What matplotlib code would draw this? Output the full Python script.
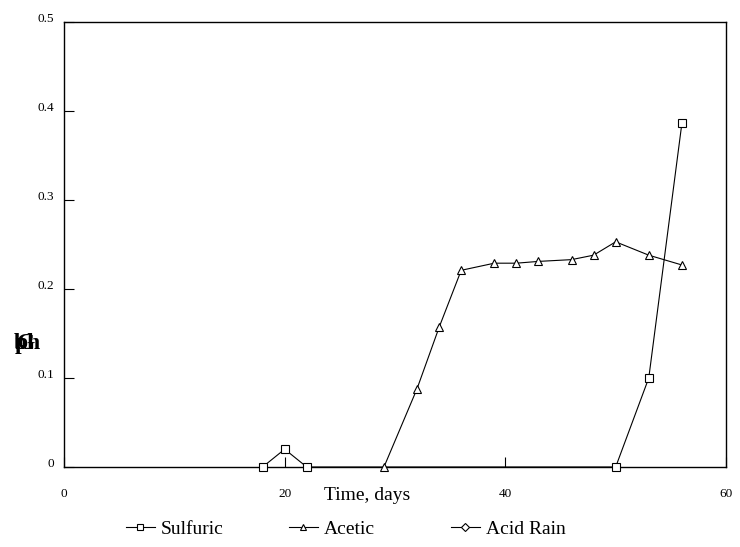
import matplotlib
matplotlib.use("Agg")
import matplotlib.pyplot as plt
import matplotlib.transforms as mtransforms
from matplotlib.lines import Line2D

plt.rcParams['font.family'] = ['Liberation Serif', 'DejaVu Serif']
plt.rcParams['mathtext.fontset'] = 'custom'
plt.rcParams['mathtext.rm'] = 'Liberation Serif'
plt.rcParams['mathtext.bf'] = 'Liberation Serif:bold'

# Data
sulfuric_x = [18, 20, 22, 50, 53, 56]
sulfuric_y = [0.0, 0.02, 0.0, 0.0, 0.10, 0.386]
acetic_x = [29, 32, 34, 36, 39, 41, 43, 46, 48, 50, 53, 56]
acetic_y = [0.0, 0.088, 0.157, 0.221, 0.229, 0.229, 0.231, 0.233, 0.238, 0.253, 0.238, 0.227]
acidrain_x = []
acidrain_y = []
x_ticks = [0, 20, 40, 60]
y_ticks = [0, 0.1, 0.2, 0.3, 0.4, 0.5]
y_ticklabels = ['0', '0.1', '0.2', '0.3', '0.4', '0.5']
series_names = ['Sulfuric', 'Acetic', 'Acid Rain']

fig = plt.figure(figsize=(7.4, 5.47), dpi=100)
ax = fig.add_axes([64/740, 80/547, 662/740, 445/547])

style = dict(color='black', lw=0.8, mfc='white', mec='black', mew=0.8, ms=6, clip_on=False)
l1, = ax.plot(sulfuric_x, sulfuric_y, marker='s', zorder=3, **style)
l2, = ax.plot(acetic_x, acetic_y, marker='^', zorder=3, **style)
l3, = ax.plot(acidrain_x, acidrain_y, marker='D', zorder=3, **{**style, 'ms': 5})

ax.set_xlim(0, 60)
ax.set_ylim(0, 0.5)
ax.set_xticks(x_ticks)
ax.set_xticklabels([str(v) for v in x_ticks])
ax.set_yticks(y_ticks)
ax.set_yticklabels(y_ticklabels)
ax.tick_params(axis='both', direction='in', length=7, width=0.8, labelsize=9.5)
ax.tick_params(axis='x', pad=15)
ax.tick_params(axis='y', pad=7)
for sp in ax.spines.values():
    sp.set_linewidth(1.0)
    sp.set_color('black')

off = mtransforms.ScaledTranslation(0, 3/72, fig.dpi_scale_trans)
for lab in ax.get_yticklabels():
    lab.set_transform(lab.get_transform() + off)

# x label
fig.text(367/740, 1 - 496/547, 'Time, days', ha='center', va='center', fontsize=14)

# garbled (overlapping glyphs) y label, as in the reference
fig.text(27/740, 1 - 343/547, r'$\mathbf{b\!\!\!p\!\!\!G\!\!h}$',
         ha='center', va='center', fontsize=17)

# legend entries placed individually
handles = [l1, l2, l3]
xs = [125, 288, 450]
for h, name, xp in zip(handles, series_names, xs):
    proxy = Line2D([], [], color='black', lw=0.8, marker=h.get_marker(), mfc='white',
                   mec='black', mew=0.8, ms=5 if h.get_marker() != 'D' else 4.5)
    leg = fig.legend([proxy], [name], loc='center left',
                     bbox_to_anchor=(xp/740 - 0.012, 1 - 529/547), frameon=False,
                     fontsize=14, handlelength=1.5, handletextpad=0.3, borderpad=0.0)

fig.savefig('out.png', dpi=100)
